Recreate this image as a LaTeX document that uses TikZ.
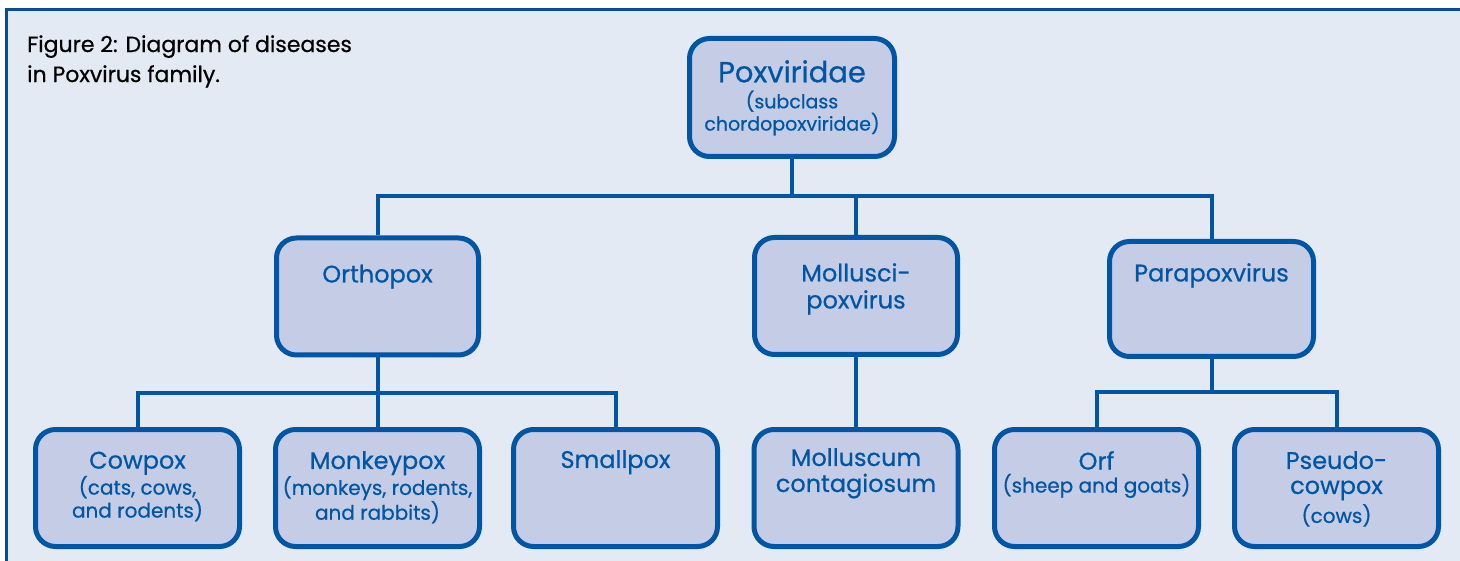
\documentclass[tikz,border=0pt]{standalone}
\usepackage{fontspec}
\setmainfont{Poppins}[FakeBold=0.6]
\usetikzlibrary{positioning,calc}

\definecolor{bgblue}{HTML}{E3EAF3}
\definecolor{boxfill}{HTML}{C5CDE6}
\definecolor{poxblue}{HTML}{0055A5}
\definecolor{frameblue}{HTML}{0B4A97}

\newcommand{\capfont}{\fontsize{22}{30}\selectfont}
\newcommand{\boxmain}{\fontsize{24}{26}\selectfont}
\newcommand{\boxsub}{\fontsize{20}{23}\selectfont}
\newcommand{\rootmain}{\fontsize{29}{31}\selectfont}
\newcommand{\rootsub}{\fontsize{19}{20}\selectfont}

\tikzset{
  box/.style={draw=poxblue, fill=boxfill, line width=5pt, rounded corners=20pt,
    minimum width=204pt, minimum height=117pt, inner sep=0pt},
  lbl/.style={anchor=north, align=center, text=poxblue, inner sep=0pt, font=\boxsub},
  link/.style={draw=poxblue, line width=4pt},
}

\begin{document}
\begin{tikzpicture}[x=1pt,y=-1pt]
  \useasboundingbox (0,0) rectangle (1460,561);
  \clip (0,0) rectangle (1460,561);

  % Panel behind the diagram
  \fill[bgblue] (6,9.5) rectangle (1480,580);
  \draw[frameblue, line width=3pt] (6,580) -- (6,9.5) -- (1480,9.5);

  % Caption
  \node[anchor=north west, align=left, inner sep=0pt, font=\capfont] (caption) at (27,35)
    {Figure 2: Diagram of diseases\\in Poxvirus family.};

  % Family
  \node[box, minimum width=205pt, minimum height=118pt] (root) at (792,97.5) {};

  % Genera
  \node[box, minimum width=202pt] (ortho) at (377.5,296.5) {};
  \node[box, minimum width=203pt] (mollusci) at (856,296) {};
  \node[box, minimum height=115pt] (parapox) at (1211.5,299) {};

  % Diseases
  \node[box] (cowpox) at (137.5,488) {};
  \node[box] (monkeypox) at (377.5,488) {};
  \node[box] (smallpox) at (615.5,488) {};
  \node[box] (molluscum) at (856,488) {};
  \node[box] (orf) at (1096.5,488) {};
  \node[box] (pseudo) at (1336.5,488) {};

  % Family to genera
  \coordinate (bus1) at (792,196);
  \draw[link] (root.south) -- (root.south |- bus1);
  \draw[link] (ortho.north) |- (parapox.north |- bus1) -- (parapox.north);
  \draw[link] (mollusci.north) -- (mollusci.north |- bus1);

  % Orthopox to diseases
  \coordinate (bus2) at (377.5,393);
  \draw[link] (ortho.south) -- (ortho.south |- bus2);
  \draw[link] (cowpox.north) |- (smallpox.north |- bus2) -- (smallpox.north);
  \draw[link] (monkeypox.north) -- (monkeypox.north |- bus2);

  % Molluscipoxvirus to disease
  \draw[link] (mollusci.south) -- (molluscum.north);

  % Parapoxvirus to diseases
  \coordinate (bus3) at (1211.5,392);
  \draw[link] (parapox.south) -- (parapox.south |- bus3);
  \draw[link] (orf.north) |- (pseudo.north |- bus3) -- (pseudo.north);

  % Texts
  \node[lbl, font=\rootsub] (root-t) at ([yshift=-24pt]root.north)
    {{\rootmain Poxviridae}\\[6pt](subclass\\chordopoxviridae)};
  \node[lbl] (ortho-t) at ([yshift=-29pt]ortho.north) {{\boxmain Orthopox}};
  \node[lbl, font=\boxmain] (mollusci-t) at ([yshift=-28pt]mollusci.north)
    {Mollusci-\\[1pt]poxvirus};
  \node[lbl] (parapox-t) at ([yshift=-24pt]parapox.north) {{\boxmain Parapoxvirus}};
  \node[lbl] (cowpox-t) at ([yshift=-24.5pt]cowpox.north)
    {{\boxmain Cowpox}\\(cats, cows,\\and rodents)};
  \node[lbl] (monkeypox-t) at ([yshift=-24pt]monkeypox.north)
    {{\boxmain Monkeypox}\\(monkeys, rodents,\\and rabbits)};
  \node[lbl] (smallpox-t) at ([yshift=-23pt]smallpox.north) {{\boxmain Smallpox}};
  \node[lbl, font=\boxmain] (molluscum-t) at ([yshift=-21pt]molluscum.north)
    {Molluscum\\contagiosum};
  \node[lbl] (orf-t) at ([yshift=-24pt]orf.north) {{\boxmain Orf}\\(sheep and goats)};
  \node[lbl] (pseudo-t) at ([yshift=-24pt]pseudo.north)
    {{\boxmain Pseudo-}\\[2pt]{\boxmain cowpox}\\[3pt](cows)};
\end{tikzpicture}
\end{document}
